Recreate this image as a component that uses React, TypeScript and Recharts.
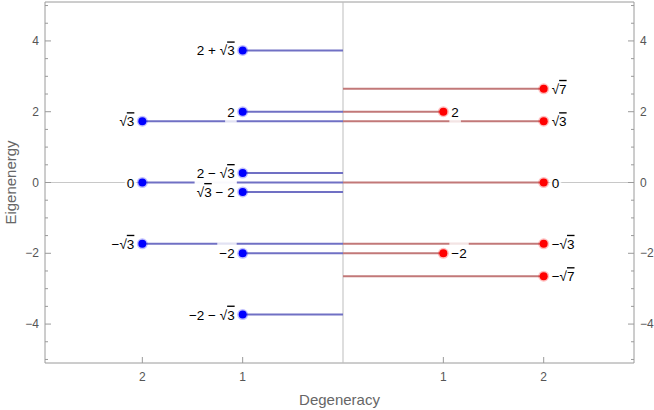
import React from "react";
import { ComposedChart, Scatter, XAxis, YAxis, ReferenceLine, ReferenceArea, Label } from "recharts";

// levels drawn on the left (blue) side
const leftEnergies = [3.732, 2, 1.732, 0.268, 0, -0.268, -1.732, -2, -3.732];
const leftDegeneracies = [1, 1, 2, 1, 2, 1, 2, 1, 1];
const leftLabels = ["2 + √3", "2", "√3", "2 − √3", "0", "√3 − 2", "−√3", "−2", "−2 − √3"];

// levels drawn on the right (red) side
const rightEnergies = [2.646, 2, 1.732, 0, -1.732, -2, -2.646];
const rightDegeneracies = [2, 1, 2, 2, 2, 1, 2];
const rightLabels = ["√7", "2", "√3", "0", "−√3", "−2", "−√7"];

const xTicks = [-2, -1, 1, 2];
const yMajorTicks = [-4, -2, 0, 2, 4];
const yTicks = [-5, -4.5, -4, -3.5, -3, -2.5, -2, -1.5, -1, -0.5, 0, 0.5, 1, 1.5, 2, 2.5, 3, 3.5, 4, 4.5, 5];

const leftData = leftEnergies.map((e, i) => ({ x: -leftDegeneracies[i], y: e, label: leftLabels[i] }));
const rightData = rightEnergies.map((e, i) => ({ x: rightDegeneracies[i], y: e, label: rightLabels[i] }));

const FRAME = "#9a9a9a";
const TICK_TEXT = "#555";
const FONT = "'Liberation Sans', Arial, sans-serif";
const LABEL_SIZE = 13.5;

function mathText(label: string) {
  const parts = label.split(/(√\d)/).filter(Boolean);
  return parts.map((part, i) =>
    part.startsWith("√") ? (
      <React.Fragment key={i}>
        <tspan>√</tspan>
        <tspan style={{ textDecoration: "overline" }}>{part.slice(1)}</tspan>
      </React.Fragment>
    ) : (
      <tspan key={i}>{part}</tspan>
    )
  );
}

// rough width of a label, for its faint white backdrop
function labelWidth(label: string) {
  let w = 0;
  for (const ch of label) w += ch === " " ? 0.28 : ch === "√" ? 0.55 : ch === "−" || ch === "+" ? 0.58 : 0.56;
  return w * LABEL_SIZE;
}

const minus = (v: number) => (v < 0 ? "−" + Math.abs(v) : String(v));

const Point = (p: any) => {
  const left = p.side === "left";
  const color = left ? "#0000ff" : "#ff0000";
  const w = labelWidth(p.payload.label) + 4;
  const tx = left ? p.cx - 8 : p.cx + 8;
  return (
    <g>
      <rect x={left ? tx - w + 2 : tx - 2} y={p.cy - 11} width={w} height={22} fill="#fff" opacity={0.8} />
      <circle cx={p.cx} cy={p.cy} r={5.5} fill={color} opacity={0.25} />
      <circle cx={p.cx} cy={p.cy} r={4} fill={color} />
      <text x={tx} y={p.cy} textAnchor={left ? "end" : "start"} dominantBaseline="central" fontSize={LABEL_SIZE}
        fontFamily={FONT} fill="#000">
        {mathText(p.payload.label)}
      </text>
    </g>
  );
};

const YTick = (p: any) => {
  const left = p.side === "left";
  const v = p.payload.value;
  const major = yMajorTicks.includes(v);
  const dir = left ? 1 : -1;
  return (
    <g>
      <line x1={p.x} x2={p.x + dir * (major ? 6 : 3)} y1={p.y} y2={p.y} stroke={FRAME} />
      {major && (
        <text x={p.x - dir * 6} y={p.y} textAnchor={left ? "end" : "start"} dominantBaseline="central"
          fontSize={12} fontFamily={FONT} fill={TICK_TEXT}>
          {minus(v)}
        </text>
      )}
    </g>
  );
};

const XTick = (p: any) => (
  <g>
    <line x1={p.x} x2={p.x} y1={p.y} y2={p.y - 6} stroke={FRAME} />
    <text x={p.x} y={p.y + 14} textAnchor="middle" dominantBaseline="central" fontSize={12} fontFamily={FONT} fill={TICK_TEXT}>
      {Math.abs(p.payload.value)}
    </text>
  </g>
);

export default function App() {
  return (
    <div>
      <style>{"body{margin:0}"}</style>
      <ComposedChart width={654} height={410} margin={{ top: 2, right: 0, left: 0, bottom: 0 }}>
        <XAxis type="number" dataKey="x" domain={[-2.97, 2.9]} ticks={xTicks} allowDataOverflow
          axisLine={false} tickLine={false} tickSize={0} tickMargin={0} height={47} tick={<XTick />}>
          <Label content={({ viewBox }: any) => (
            <text x={viewBox.x + viewBox.width / 2} y={viewBox.y + 36} textAnchor="middle" dominantBaseline="central"
              fontSize={15} fontFamily={FONT} fill="#666">Degeneracy</text>
          )} />
        </XAxis>
        <YAxis yAxisId="left" type="number" dataKey="y" domain={[-5.1, 5.1]} ticks={yTicks} allowDataOverflow
          axisLine={false} tickLine={false} tickSize={0} tickMargin={0} width={45} interval={0}
          tick={<YTick side="left" />}>
          <Label content={({ viewBox }: any) => (
            <text x={viewBox.x + 10} y={viewBox.y + viewBox.height / 2} textAnchor="middle" dominantBaseline="central"
              transform={`rotate(-90 ${viewBox.x + 10} ${viewBox.y + viewBox.height / 2})`}
              fontSize={15} fontFamily={FONT} fill="#666">Eigenenergy</text>
          )} />
        </YAxis>
        <YAxis yAxisId="right" orientation="right" type="number" domain={[-5.1, 5.1]} ticks={yTicks} allowDataOverflow
          axisLine={false} tickLine={false} tickSize={0} tickMargin={0} width={20} interval={0}
          tick={<YTick side="right" />} />

        <ReferenceArea yAxisId="left" x1={-2.97} x2={2.9} y1={-5.1} y2={5.1} fill="none" stroke={FRAME} strokeWidth={1} fillOpacity={0} />
        <ReferenceLine yAxisId="left" y={0} stroke="#c8c8c8" />
        <ReferenceLine yAxisId="left" x={0} stroke="#bdbdbd" />

        {leftData.map((d, i) => (
          <ReferenceLine key={"l" + i} yAxisId="left" segment={[{ x: 0, y: d.y }, { x: d.x, y: d.y }]}
            stroke="#7070c4" strokeWidth={2} />
        ))}
        {rightData.map((d, i) => (
          <ReferenceLine key={"r" + i} yAxisId="left" segment={[{ x: 0, y: d.y }, { x: d.x, y: d.y }]}
            stroke="#c27878" strokeWidth={2} />
        ))}

        <Scatter yAxisId="left" data={leftData} shape={<Point side="left" />} isAnimationActive={false} />
        <Scatter yAxisId="left" data={rightData} shape={<Point side="right" />} isAnimationActive={false} />
      </ComposedChart>
    </div>
  );
}
